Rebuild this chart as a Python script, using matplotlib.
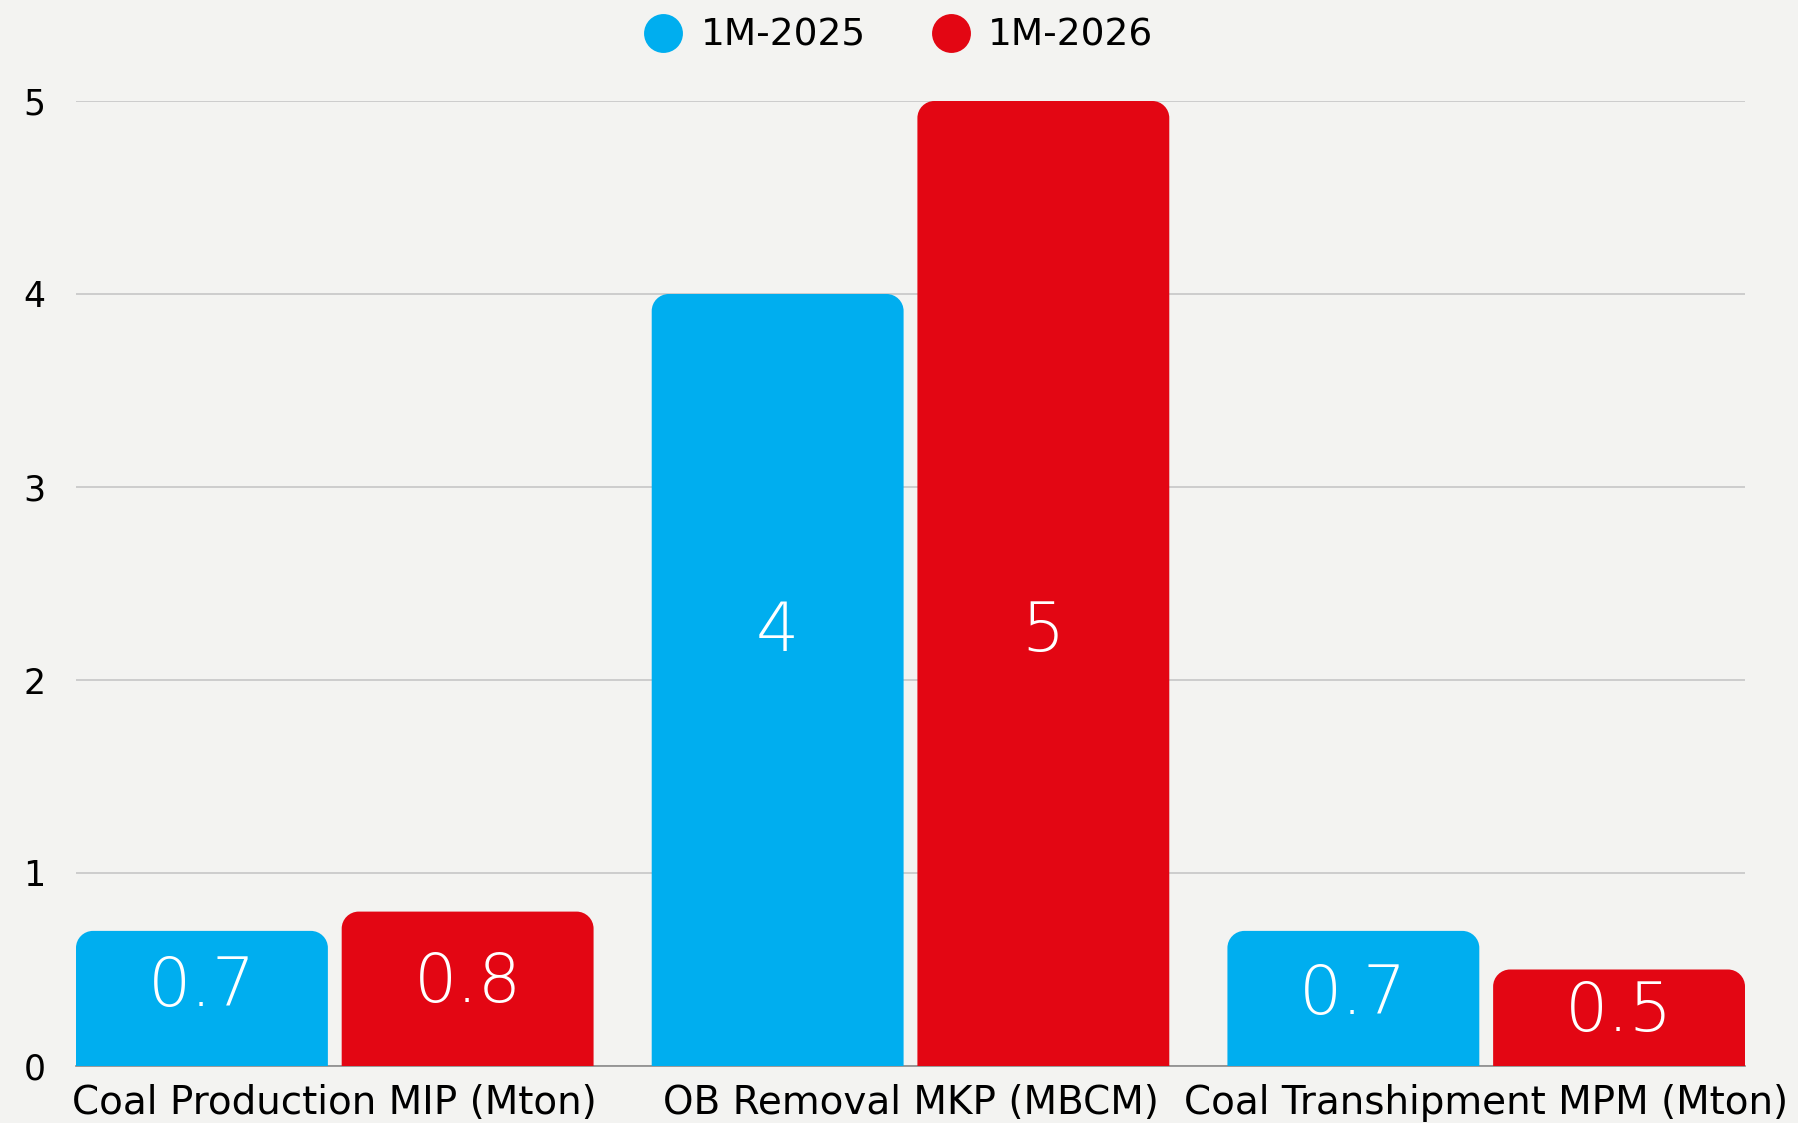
import matplotlib
matplotlib.use("Agg")
import matplotlib.pyplot as plt
from matplotlib.path import Path
from matplotlib.patches import PathPatch
from matplotlib.lines import Line2D
import numpy as np

# ---- data ----
categories = ["Coal Production MIP (Mton)", "OB Removal MKP (MBCM)", "Coal Transhipment MPM (Mton)"]
series_names = ["1M-2025", "1M-2026"]
values_2025 = [0.7, 4, 0.7]
values_2026 = [0.8, 5, 0.5]
value_labels_2025 = ["0.7", "4", "0.7"]
value_labels_2026 = ["0.8", "5", "0.5"]
y_ticks = [0, 1, 2, 3, 4, 5]

# ---- layout / style ----
label_y_2025 = [0.41, 2.25, 0.37]
label_y_2026 = [0.43, 2.25, 0.28]
colors = ["#00AEEF", "#E30613"]
bg = "#F3F3F1"
font = "DejaVu Sans"

W, H, DPI = 1798, 1123, 100
fig = plt.figure(figsize=(W / DPI, H / DPI), dpi=DPI, facecolor=bg)
ax = fig.add_axes([76 / W, 1 - 1066 / H, (1745 - 76) / W, (1066 - 101) / H])
ax.set_facecolor(bg)

bar_w = 0.4375
gap = 0.024
x = np.arange(len(categories))
offs = bar_w / 2 + gap / 2
ax.set_xlim(-offs - bar_w / 2, len(categories) - 1 + offs + bar_w / 2)
ax.set_ylim(0, 5)

bars_a = ax.bar(x - offs, values_2025, bar_w, color=colors[0], alpha=0)
bars_b = ax.bar(x + offs, values_2026, bar_w, color=colors[1], alpha=0)

# convert a pixel radius into data units
p0 = ax.transData.transform((0, 0))
p1 = ax.transData.transform((1, 1))
r_px = 17
rx = r_px / (p1[0] - p0[0])
ry = r_px / (p1[1] - p0[1])
k = 0.5523


def rounded_top(rect, color):
    x0 = rect.get_x()
    x1 = x0 + rect.get_width()
    y0 = rect.get_y()
    y1 = y0 + rect.get_height()
    verts = [(x0, y0), (x0, y1 - ry),
             (x0, y1 - ry + k * ry), (x0 + rx - k * rx, y1), (x0 + rx, y1),
             (x1 - rx, y1),
             (x1 - rx + k * rx, y1), (x1, y1 - ry + k * ry), (x1, y1 - ry),
             (x1, y0), (x0, y0)]
    codes = [Path.MOVETO, Path.LINETO,
             Path.CURVE4, Path.CURVE4, Path.CURVE4,
             Path.LINETO,
             Path.CURVE4, Path.CURVE4, Path.CURVE4,
             Path.LINETO, Path.CLOSEPOLY]
    ax.add_patch(PathPatch(Path(verts, codes), facecolor=color, edgecolor="none",
                           zorder=3, clip_on=False))


for r in bars_a:
    rounded_top(r, colors[0])
for r in bars_b:
    rounded_top(r, colors[1])

for xi, ly, lab in zip(x - offs, label_y_2025, value_labels_2025):
    ax.text(xi, ly, lab, ha="center", va="center", color="white", fontsize=49,
            fontweight="light", family=font, zorder=4)
for xi, ly, lab in zip(x + offs, label_y_2026, value_labels_2026):
    ax.text(xi, ly, lab, ha="center", va="center", color="white", fontsize=49,
            fontweight="light", family=font, zorder=4)

ax.set_yticks(y_ticks)
ax.set_yticklabels([str(t) for t in y_ticks], family=font, fontsize=25)
ax.set_xticks(x)
ax.set_xticklabels(categories, family=font, fontsize=28)
ax.tick_params(axis="both", length=0, colors="black")
ax.tick_params(axis="y", pad=22)
ax.tick_params(axis="x", pad=13)
ax.grid(axis="y", color="#C6C6C6", linewidth=1.2, zorder=0)
ax.set_axisbelow(True)
for s in ["top", "right", "left"]:
    ax.spines[s].set_visible(False)
ax.spines["bottom"].set_color("#8A8A8A")
ax.spines["bottom"].set_linewidth(1.2)
ax.spines["bottom"].set_zorder(1)

handles = [Line2D([], [], linestyle="none", marker="o", markersize=28,
                  markerfacecolor=c, markeredgecolor="none") for c in colors]
fig.legend(handles, series_names, loc="center", bbox_to_anchor=(0.5, 1 - 36 / H),
           ncol=2, frameon=False, prop={"family": font, "size": 27},
           handlelength=1.0, handletextpad=0.5, columnspacing=1.76)

fig.savefig("out.png", dpi=DPI, facecolor=bg)
